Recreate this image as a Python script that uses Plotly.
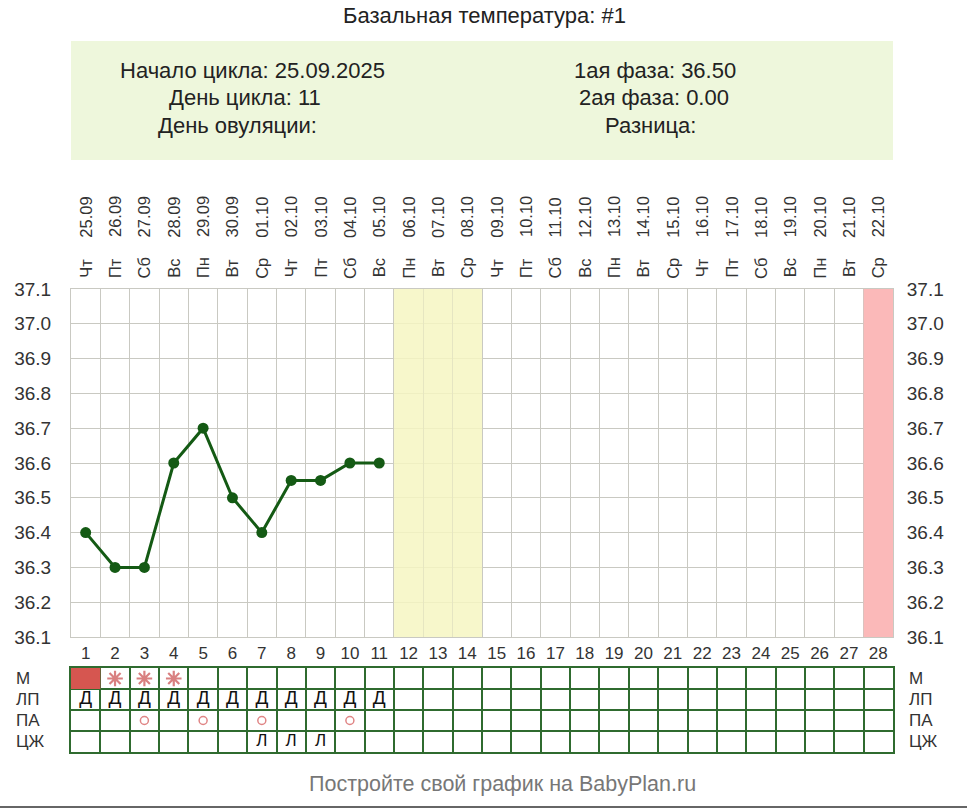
import plotly.graph_objects as go

# ---------------- data ----------------
cycle_days = list(range(1, 29))
weekdays = ["Чт", "Пт", "Сб", "Вс", "Пн", "Вт", "Ср", "Чт", "Пт", "Сб", "Вс", "Пн", "Вт", "Ср",
            "Чт", "Пт", "Сб", "Вс", "Пн", "Вт", "Ср", "Чт", "Пт", "Сб", "Вс", "Пн", "Вт", "Ср"]
dates = ["25.09", "26.09", "27.09", "28.09", "29.09", "30.09", "01.10", "02.10", "03.10", "04.10",
         "05.10", "06.10", "07.10", "08.10", "09.10", "10.10", "11.10", "12.10", "13.10", "14.10",
         "15.10", "16.10", "17.10", "18.10", "19.10", "20.10", "21.10", "22.10"]
temp_days = [1, 2, 3, 4, 5, 6, 7, 8, 9, 10, 11]
temps = [36.40, 36.30, 36.30, 36.60, 36.70, 36.50, 36.40, 36.55, 36.55, 36.60, 36.60]
y_ticks = [36.1, 36.2, 36.3, 36.4, 36.5, 36.6, 36.7, 36.8, 36.9, 37.0, 37.1]
fertile_days = [12, 13, 14]
next_period_days = [28]
table_rows = ["М", "ЛП", "ПА", "ЦЖ"]
m_fill_days = [1]
m_star_days = [2, 3, 4]
lp_days = [1, 2, 3, 4, 5, 6, 7, 8, 9, 10, 11]
pa_days = [3, 5, 7, 10]
cz_days = [7, 8, 9]
title = "Базальная температура: #1"
info_left = ["Начало цикла: 25.09.2025", "День цикла: 11", "День овуляции:"]
info_right = ["1ая фаза: 36.50", "2ая фаза: 0.00", "Разница:"]
footer = "Постройте свой график на BabyPlan.ru"

# ---------------- layout helpers ----------------
W, H = 967, 810
def px_x(x): return x / W
def px_y(y): return (H - y) / H

X0, X1 = 71, 893
MAIN_TOP, MAIN_BOT = 289, 637
TAB_TOP, TAB_BOT = 668, 752
FONT = "Liberation Sans, Arial, sans-serif"
TXT = "#333333"
GRID = "#c9c9c2"
TGRID = "#2f6b2f"
GREEN = "#145a14"

fig = go.Figure()

# background bands
fig.add_trace(go.Bar(x=fertile_days, y=[y_ticks[-1] - y_ticks[0]] * len(fertile_days),
                     base=y_ticks[0], width=1, marker=dict(color="#f6f6c2", line=dict(width=0)),
                     opacity=0.85, xaxis="x", yaxis="y", hoverinfo="skip", showlegend=False))
fig.add_trace(go.Bar(x=next_period_days, y=[y_ticks[-1] - y_ticks[0]] * len(next_period_days),
                     base=y_ticks[0], width=1, marker=dict(color="#fbb9b9", line=dict(width=0)),
                     xaxis="x", yaxis="y", hoverinfo="skip", showlegend=False))

# temperature line
fig.add_trace(go.Scatter(x=temp_days, y=temps, mode="lines+markers",
                         line=dict(color=GREEN, width=3),
                         marker=dict(color=GREEN, size=11),
                         xaxis="x", yaxis="y", hoverinfo="skip", showlegend=False))
# right axis dummy
fig.add_trace(go.Scatter(x=[None], y=[None], xaxis="x", yaxis="y3", showlegend=False))

# table: М row red fill
fig.add_trace(go.Bar(x=m_fill_days, y=[1] * len(m_fill_days), base=3, width=1,
                     marker=dict(color="#d65650", line=dict(width=0)),
                     xaxis="x2", yaxis="y2", hoverinfo="skip", showlegend=False))
fig.add_trace(go.Scatter(x=m_star_days, y=[3.5] * len(m_star_days), mode="markers",
                         marker=dict(symbol="asterisk-open", size=13, color="#d98080",
                                     line=dict(width=2.2, color="#d98080")),
                         xaxis="x2", yaxis="y2", hoverinfo="skip", showlegend=False))
fig.add_trace(go.Scatter(x=lp_days, y=[2.5] * len(lp_days), mode="text", text=["Д"] * len(lp_days),
                         textfont=dict(family=FONT, size=19, color="#111111"),
                         xaxis="x2", yaxis="y2", hoverinfo="skip", showlegend=False))
fig.add_trace(go.Scatter(x=pa_days, y=[1.5] * len(pa_days), mode="markers",
                         marker=dict(symbol="circle-open", size=8, color="#e08585", line=dict(width=1.5)),
                         xaxis="x2", yaxis="y2", hoverinfo="skip", showlegend=False))
fig.add_trace(go.Scatter(x=cz_days, y=[0.5] * len(cz_days), mode="text", text=["Л"] * len(cz_days),
                         textfont=dict(family=FONT, size=17, color="#111111"),
                         xaxis="x2", yaxis="y2", hoverinfo="skip", showlegend=False))

xr = [cycle_days[0] - 0.5, cycle_days[-1] + 0.5]
yr = [y_ticks[0], y_ticks[-1]]

fig.update_layout(
    width=W, height=H, margin=dict(l=0, r=0, t=0, b=0, autoexpand=False),
    paper_bgcolor="white", plot_bgcolor="white", barmode="overlay",
    font=dict(family=FONT, color=TXT),
    xaxis=dict(domain=[px_x(X0), px_x(X1)], range=xr, tickvals=cycle_days,
               ticktext=[str(d) for d in cycle_days], showgrid=False, zeroline=False,
               ticks="outside", ticklen=1, tickcolor="rgba(0,0,0,0)",
               tickfont=dict(size=17, color=TXT, family=FONT), automargin=False,
               minor=dict(tick0=0.5, dtick=1, showgrid=True, gridcolor=GRID, gridwidth=1, ticks=""),
               showline=True, mirror=True, linecolor=GRID, linewidth=1, anchor="y", fixedrange=True),
    yaxis=dict(domain=[px_y(MAIN_BOT), px_y(MAIN_TOP)], range=yr, tickvals=y_ticks,
               ticktext=[f"{v:.1f}" for v in y_ticks], showgrid=True, gridcolor=GRID, zeroline=False,
               ticks="outside", ticklen=15, tickcolor="rgba(0,0,0,0)", automargin=False,
               tickfont=dict(size=19, color=TXT, family=FONT),
               showline=True, mirror=True, linecolor=GRID, linewidth=1, anchor="x", fixedrange=True),
    yaxis3=dict(overlaying="y", side="right", range=yr, tickvals=y_ticks,
                ticktext=[f"{v:.1f}" for v in y_ticks], showgrid=False, zeroline=False,
                ticks="outside", ticklen=9, tickcolor="rgba(0,0,0,0)", automargin=False,
                tickfont=dict(size=19, color=TXT, family=FONT), anchor="x", fixedrange=True),
    xaxis2=dict(domain=[px_x(X0), px_x(X1)], range=xr, showticklabels=False, showgrid=False,
                zeroline=False, automargin=False,
                minor=dict(tick0=0.5, dtick=1, showgrid=True, gridcolor=TGRID, gridwidth=1.5),
                showline=True, mirror=True, linecolor=TGRID, linewidth=1.5, anchor="y2", fixedrange=True),
    yaxis2=dict(domain=[px_y(TAB_BOT), px_y(TAB_TOP)], range=[0, 4], tickvals=[0, 1, 2, 3, 4],
                showticklabels=False, showgrid=True, gridcolor=TGRID, gridwidth=1.5, zeroline=False,
                automargin=False,
                showline=True, mirror=True, linecolor=TGRID, linewidth=1.5, anchor="x2", fixedrange=True),
)

shapes = [
    dict(type="rect", xref="paper", yref="paper", x0=px_x(X0), x1=px_x(X1), y0=px_y(160), y1=px_y(41),
         fillcolor="#eef7dc", line=dict(width=0), layer="below"),
    dict(type="line", xref="paper", yref="paper", x0=0, x1=1, y0=px_y(807), y1=px_y(807),
         line=dict(color="#666666", width=2)),
]
fig.update_layout(shapes=shapes)

ann = []
ann.append(dict(text=title, x=px_x(484), y=px_y(16), xref="paper", yref="paper", showarrow=False,
                font=dict(family=FONT, size=22, color="#222222"), xanchor="center", yanchor="middle"))
left_cx = [252, 245, 237]
right_cx = [655, 654, 650]
rows_y = [70, 97, 125]
for t, cx, cy in zip(info_left, left_cx, rows_y):
    ann.append(dict(text=t, x=px_x(cx), y=px_y(cy), xref="paper", yref="paper", showarrow=False,
                    font=dict(family=FONT, size=22, color="#222222"), xanchor="center", yanchor="middle"))
for t, cx, cy in zip(info_right, right_cx, rows_y):
    ann.append(dict(text=t, x=px_x(cx), y=px_y(cy), xref="paper", yref="paper", showarrow=False,
                    font=dict(family=FONT, size=22, color="#222222"), xanchor="center", yanchor="middle"))
for d, wd, dt in zip(cycle_days, weekdays, dates):
    ann.append(dict(text=dt, x=d, y=px_y(217), xref="x", yref="paper", showarrow=False, textangle=-90,
                    font=dict(family=FONT, size=16.5, color=TXT), xanchor="center", yanchor="middle"))
    ann.append(dict(text=wd, x=d, y=px_y(268), xref="x", yref="paper", showarrow=False, textangle=-90,
                    font=dict(family=FONT, size=16.5, color=TXT), xanchor="center", yanchor="middle"))
for i, r in enumerate(table_rows):
    cy = TAB_TOP + (i + 0.5) * (TAB_BOT - TAB_TOP) / 4
    ann.append(dict(text=r, x=px_x(14), y=px_y(cy), xref="paper", yref="paper", showarrow=False,
                    font=dict(family=FONT, size=17, color=TXT), xanchor="left", yanchor="middle"))
    ann.append(dict(text=r, x=px_x(907), y=px_y(cy), xref="paper", yref="paper", showarrow=False,
                    font=dict(family=FONT, size=17, color=TXT), xanchor="left", yanchor="middle"))
ann.append(dict(text=footer, x=px_x(502), y=px_y(784), xref="paper", yref="paper", showarrow=False,
                font=dict(family=FONT, size=21.5, color="#777777"), xanchor="center", yanchor="middle"))
fig.update_layout(annotations=ann)

fig.write_html("out.html", config={"displayModeBar": False},
               post_script="document.body.style.margin='0';document.body.style.padding='0';"
                           "document.documentElement.style.overflow='hidden';")
